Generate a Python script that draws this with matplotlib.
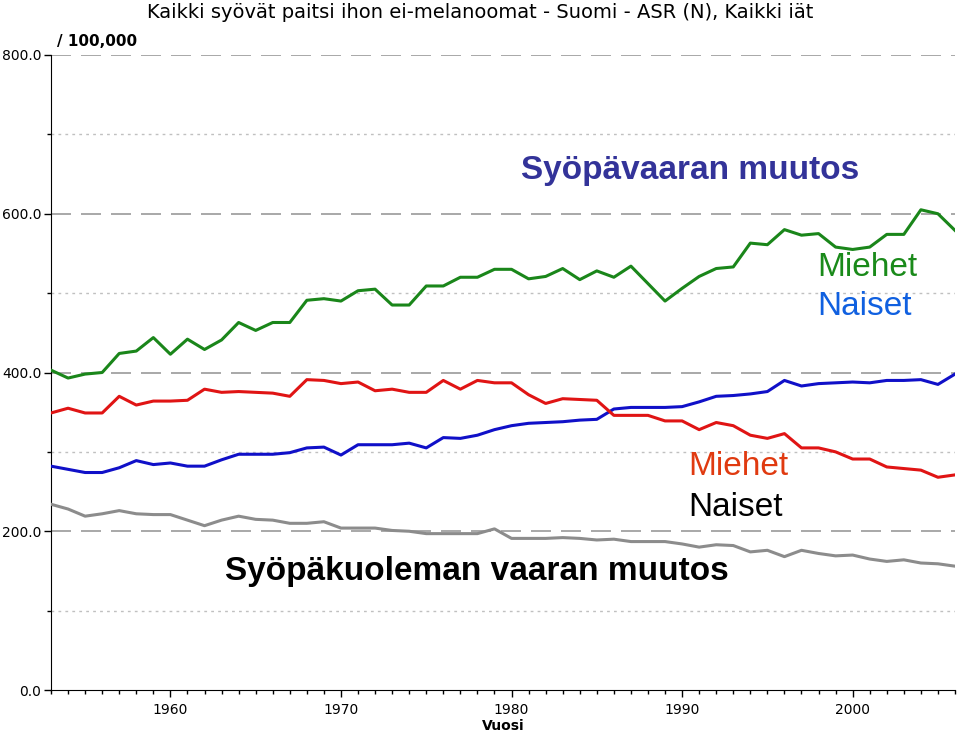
import numpy as np
import matplotlib
matplotlib.use("Agg")
import matplotlib.pyplot as plt
from matplotlib.ticker import MultipleLocator, FormatStrFormatter

# Years 1953-2006, age-standardised rates per 100,000
years = np.arange(1953, 2007)

# Incidence, men (green)
inc_men = [403, 393, 398, 400, 424, 427, 444, 423, 442, 429, 441, 463, 453, 463,
           463, 491, 493, 490, 503, 505, 485, 485, 509, 509, 520, 520, 530, 530,
           518, 521, 531, 517, 528, 520, 534, 512, 490, 506, 521, 531, 533, 563,
           561, 580, 573, 575, 558, 555, 558, 574, 574, 605, 600, 579]
# Incidence, women (blue)
inc_women = [282, 278, 274, 274, 280, 289, 284, 286, 282, 282, 290, 297, 297, 297,
             299, 305, 306, 296, 309, 309, 309, 311, 305, 318, 317, 321, 328, 333,
             336, 337, 338, 340, 341, 354, 356, 356, 356, 357, 363, 370, 371, 373,
             376, 390, 383, 386, 387, 388, 387, 390, 390, 391, 385, 398]
# Mortality, men (red)
mort_men = [349, 355, 349, 349, 370, 359, 364, 364, 365, 379, 375, 376, 375, 374,
            370, 391, 390, 386, 388, 377, 379, 375, 375, 390, 379, 390, 387, 387,
            372, 361, 367, 366, 365, 346, 346, 346, 339, 339, 328, 337, 333, 321,
            317, 323, 305, 305, 300, 291, 291, 281, 279, 277, 268, 271]
# Mortality, women (gray)
mort_women = [234, 228, 219, 222, 226, 222, 221, 221, 214, 207, 214, 219, 215, 214,
              210, 210, 212, 204, 204, 204, 201, 200, 197, 197, 197, 197, 203, 191,
              191, 191, 192, 191, 189, 190, 187, 187, 187, 184, 180, 183, 182, 174,
              176, 168, 176, 172, 169, 170, 165, 162, 164, 160, 159, 156]

fig = plt.figure(figsize=(9.6, 7.34), dpi=100)
ax = fig.add_axes([51 / 960, 1 - 690 / 734, (955 - 51) / 960, (690 - 55) / 734])

# grid: dashed at major, dotted at minor
for v in [200, 400, 600, 800]:
    ax.axhline(v, color="#999999", lw=1.2, dashes=(12, 6), zorder=1)
for v in [100, 300, 500, 700]:
    ax.axhline(v, color="#c0c0c0", lw=1.0, dashes=(2, 3), zorder=1)

ax.plot(years, inc_men, color="#1a861a", lw=2.2, zorder=3)
ax.plot(years, inc_women, color="#1010c8", lw=2.2, zorder=3)
ax.plot(years, mort_men, color="#e01414", lw=2.2, zorder=3)
ax.plot(years, mort_women, color="#8c8c8c", lw=2.2, zorder=3)

ax.set_xlim(1953, 2006)
ax.set_ylim(0, 800)
ax.spines["top"].set_visible(False)
ax.spines["right"].set_visible(False)
ax.xaxis.set_major_locator(MultipleLocator(10))
ax.xaxis.set_minor_locator(MultipleLocator(1))
ax.yaxis.set_major_locator(MultipleLocator(200))
ax.yaxis.set_minor_locator(MultipleLocator(100))
ax.yaxis.set_major_formatter(FormatStrFormatter("%.1f"))
ax.tick_params(axis="both", which="major", length=5, width=1, labelsize=10,
               colors="black", pad=2)
ax.tick_params(axis="x", which="major", pad=4)
ax.tick_params(axis="both", which="minor", length=3, width=1)
ax.set_xlabel("Vuosi", fontsize=10, fontweight="bold", labelpad=2)

fig.text(0.5, 1 - 13 / 734,
         "Kaikki syövät paitsi ihon ei-melanoomat - Suomi - ASR (N), Kaikki iät",
         ha="center", va="center", fontsize=14)
fig.text(57 / 960, 1 - 42 / 734, "/ 100,000", ha="left", va="center",
         fontsize=11, fontweight="bold")

arial = "Liberation Sans"
fig.text(0.719, 0.768, "Syöpävaaran muutos", ha="center", va="center",
         fontsize=24, fontweight="bold", color="#333399", family=arial)
fig.text(0.497, 0.221, "Syöpäkuoleman vaaran muutos", ha="center", va="center",
         fontsize=24, fontweight="bold", color="black", family=arial)
fig.text(0.851, 0.636, "Miehet", ha="left", va="center", fontsize=24,
         color="#1a8a1a", family=arial)
fig.text(0.851, 0.582, "Naiset", ha="left", va="center", fontsize=24,
         color="#1060e0", family=arial)
fig.text(0.717, 0.364, "Miehet", ha="left", va="center", fontsize=24,
         color="#e03a10", family=arial)
fig.text(0.717, 0.308, "Naiset", ha="left", va="center", fontsize=24,
         color="black", family=arial)

fig.savefig("out.png", dpi=100)
